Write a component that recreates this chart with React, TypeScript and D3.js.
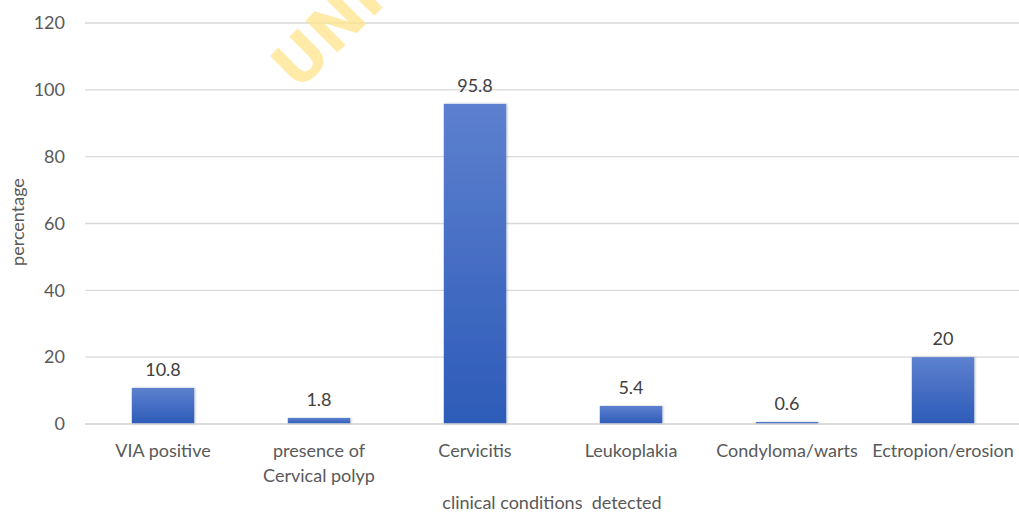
import React from "react";
import * as d3 from "d3";

const categories = [
  ["VIA positive"],
  ["presence of", "Cervical polyp"],
  ["Cervicitis"],
  ["Leukoplakia"],
  ["Condyloma/warts"],
  ["Ectropion/erosion"],
];
const values = [10.8, 1.8, 95.8, 5.4, 0.6, 20];
const valueLabels = ["10.8", "1.8", "95.8", "5.4", "0.6", "20"];
const yTicks = [0, 20, 40, 60, 80, 100, 120];

const W = 1019;
const H = 514;
const font = "Lato, 'Open Sans', sans-serif";
const fs = 18;
const grey = "#595959";

const App: React.FC = () => {
  const x = d3
    .scaleBand<number>()
    .domain(d3.range(values.length))
    .range([85, 1021])
    .paddingInner(0.6)
    .paddingOuter(0.3);
  const y = d3.scaleLinear().domain([0, 120]).range([424, 23]);

  return (
    <svg width={W} height={H} style={{ position: "absolute", left: 0, top: 0 }}>
      <defs>
        <linearGradient id="barGrad" x1="0" y1="0" x2="0" y2="1">
          <stop offset="0%" stopColor="#5d80cf" />
          <stop offset="100%" stopColor="#2d5bb8" />
        </linearGradient>
        <filter id="shadow" x="-20%" y="-5%" width="140%" height="110%">
          <feDropShadow dx="1" dy="0" stdDeviation="1.2" floodColor="#000" floodOpacity="0.25" />
        </filter>
      </defs>
      <rect width={W} height={H} fill="#fff" />

      {yTicks.map((t) => (
        <g key={t}>
          <line x1={85} x2={W} y1={y(t)} y2={y(t)} stroke="#d9d9d9" strokeWidth={1.3} />
          <text x={65} y={y(t)} dy="0.35em" textAnchor="end" fontFamily={font} fontSize={fs} fill={grey}>
            {t}
          </text>
        </g>
      ))}

      <text
        x={298}
        y={92}
        transform="rotate(-45 298 92)"
        fontFamily="'DejaVu Sans', sans-serif"
        fontWeight="bold"
        fontSize={62}
        fill="#ffe58a"
        opacity={0.75}
      >
        UNIV
      </text>

      {values.map((v, i) => (
        <g key={i}>
          <rect
            x={x(i)}
            y={y(v)}
            width={x.bandwidth()}
            height={y(0) - y(v)}
            fill="url(#barGrad)"
            filter="url(#shadow)"
          />
          <text
            x={(x(i) as number) + x.bandwidth() / 2}
            y={y(v) - 12}
            textAnchor="middle"
            fontFamily={font}
            fontSize={fs}
            fill="#404040"
          >
            {valueLabels[i]}
          </text>
          {categories[i].map((line, j) => (
            <text
              key={j}
              x={(x(i) as number) + x.bandwidth() / 2}
              y={457 + j * 25}
              textAnchor="middle"
              fontFamily={font}
              fontSize={fs}
              fill={grey}
            >
              {line}
            </text>
          ))}
        </g>
      ))}

      <line x1={85} x2={W} y1={y(0)} y2={y(0)} stroke="#d9d9d9" strokeWidth={1.3} />

      <text x={552} y={509} textAnchor="middle" fontFamily={font} fontSize={fs} fill={grey} xmlSpace="preserve">
        clinical conditions  detected
      </text>
      <text
        x={0}
        y={0}
        transform="translate(24 222) rotate(-90)"
        textAnchor="middle"
        fontFamily={font}
        fontSize={fs}
        fill={grey}
      >
        percentage
      </text>
    </svg>
  );
};

export default App;
